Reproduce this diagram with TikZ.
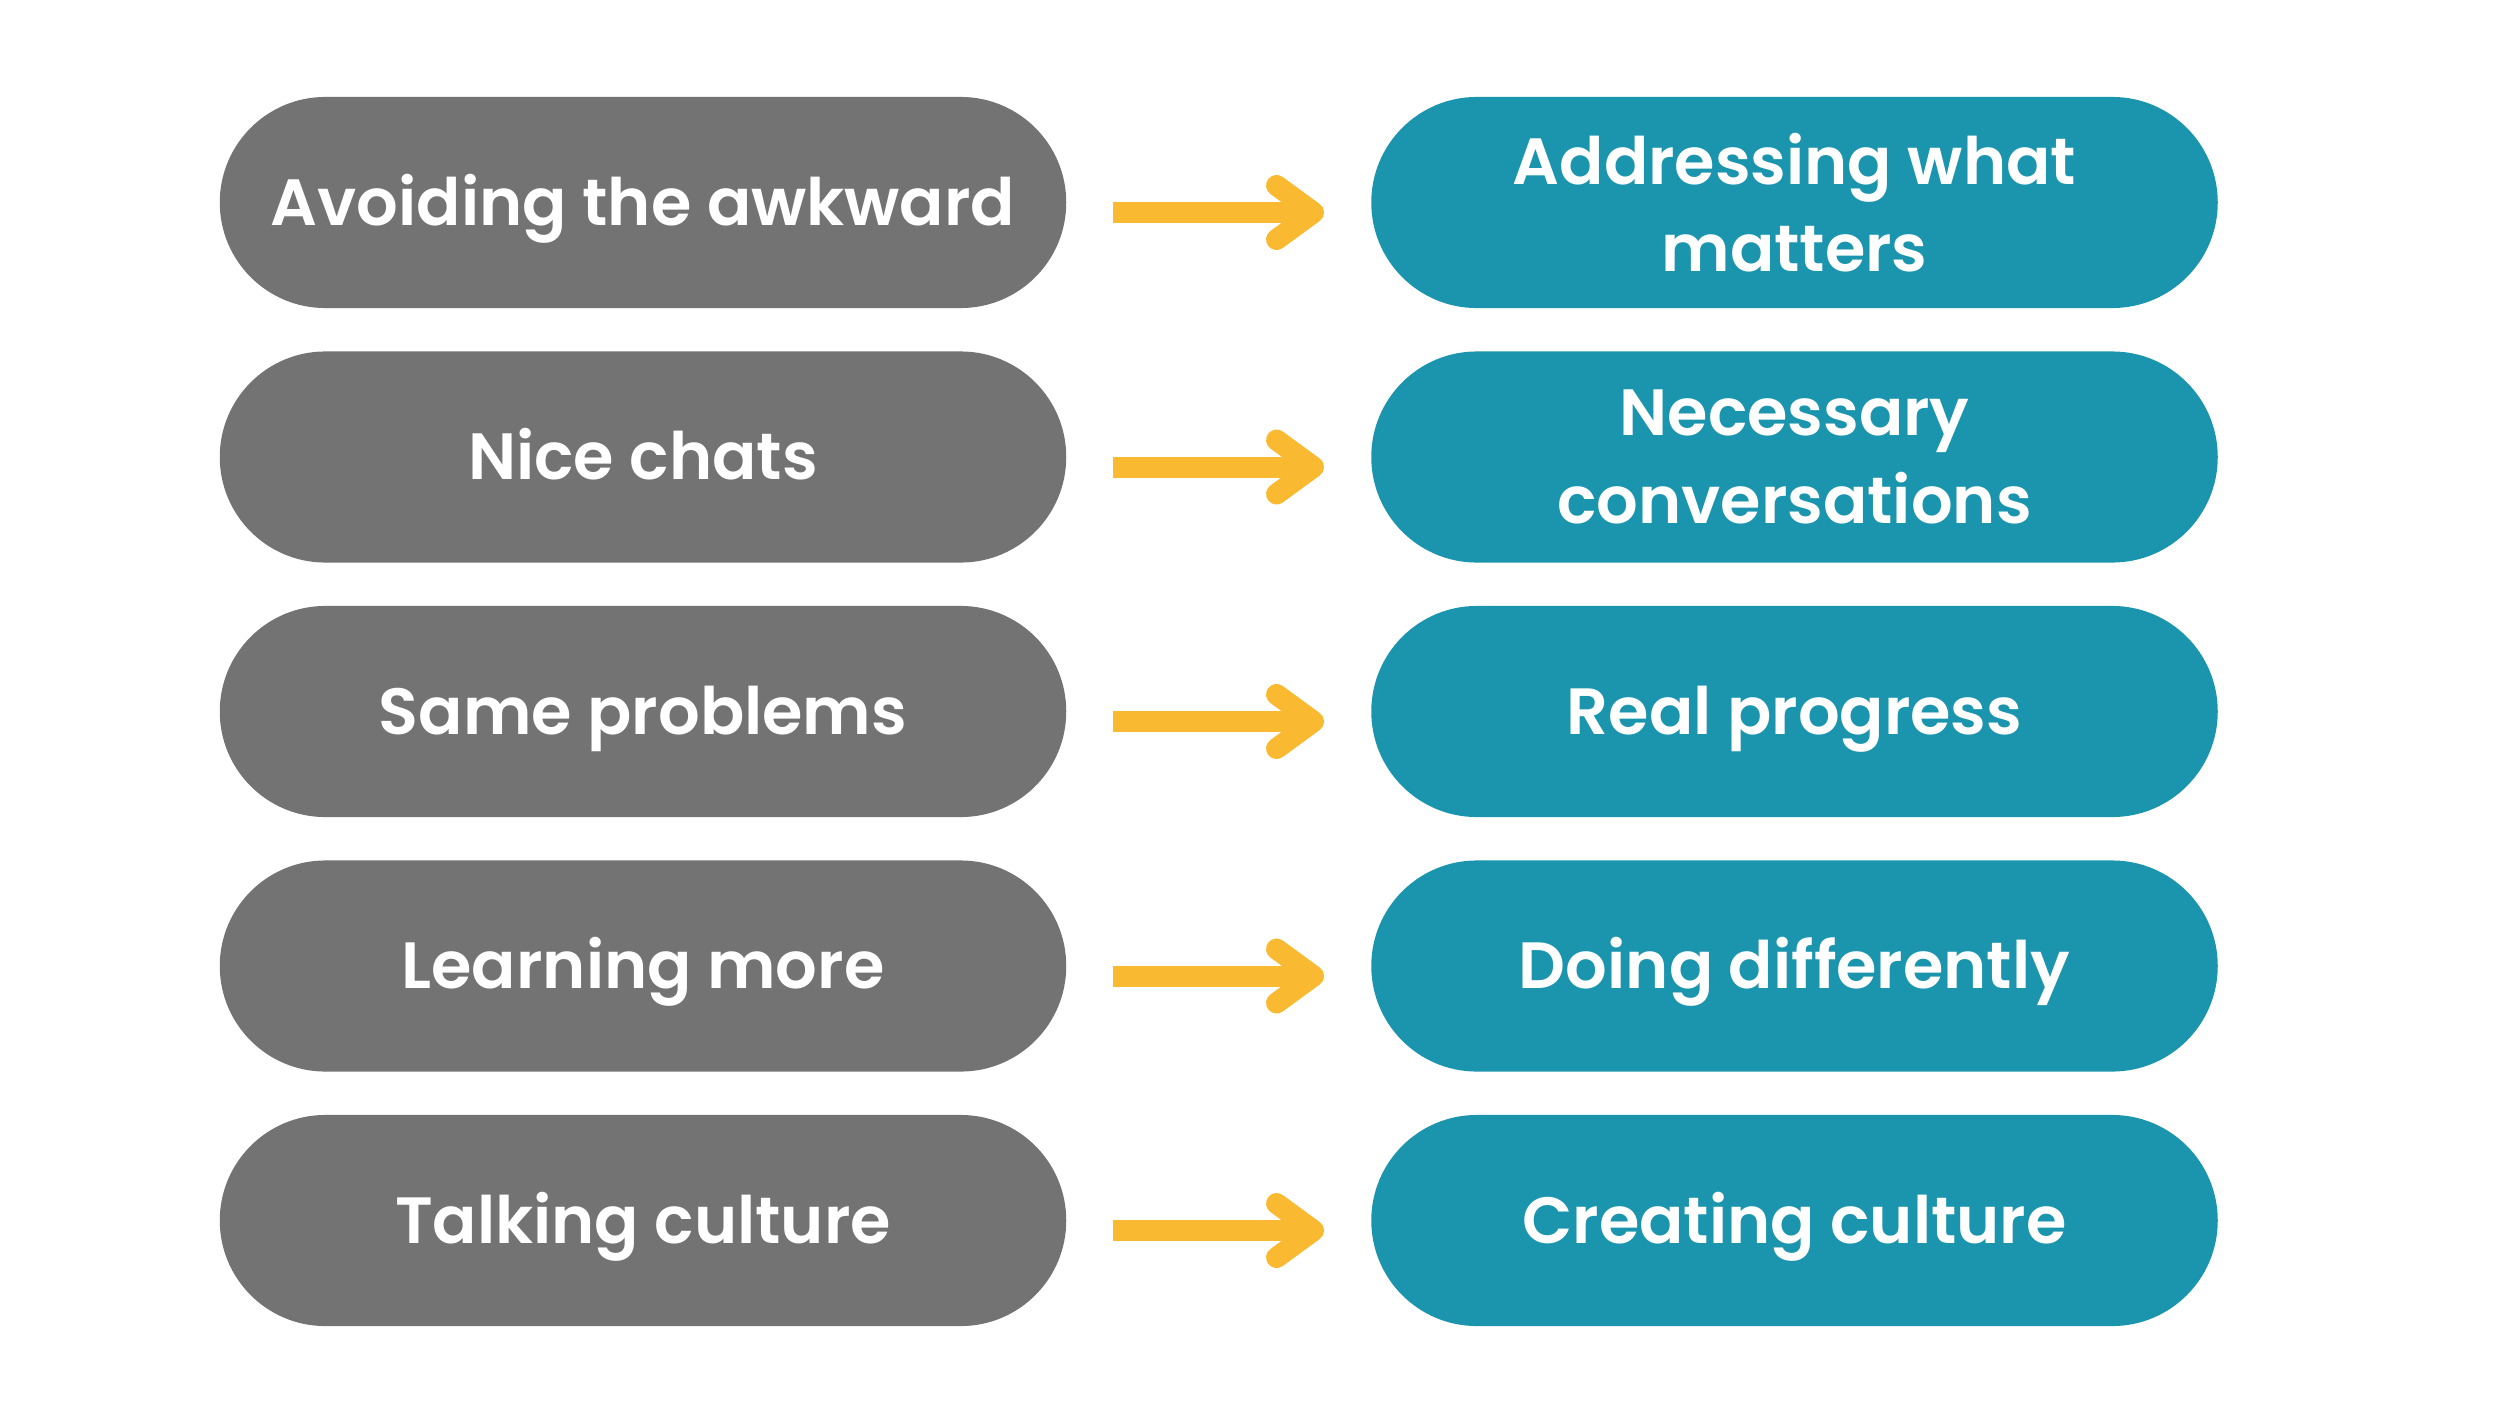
\documentclass[tikz,border=0pt]{standalone}
\usepackage{fontspec}
\setmainfont{Poppins}[BoldFont={Poppins SemiBold}]
\usetikzlibrary{calc}
\definecolor{pillgray}{HTML}{737373}
\definecolor{pillteal}{HTML}{1B95AE}
\definecolor{arrowyellow}{HTML}{F9BA32}
\begin{document}
\begin{tikzpicture}[x=0.01cm,y=-0.01cm,
  pill/.style={rectangle, rounded corners=1.055cm, minimum width=8.46cm, minimum height=2.11cm,
    inner sep=0pt, text=white, align=center,
    font=\fontsize{18.6pt}{24.8pt}\selectfont\bfseries},
  oneline/.style={text height=0.45cm, text depth=0cm},
  twoline/.style={},
  oldpill/.style={pill, oneline, fill=pillgray},
  newpill/.style={pill, fill=pillteal},
  arrowline/.style={draw=arrowyellow, line width=0.21cm},
  arrowhead/.style={draw=arrowyellow, line width=0.21cm, line cap=round, line join=round}]
\useasboundingbox (0,0) rectangle (2500,1406);
\foreach \i/\y/\l/\r/\ro in {1/202.5/{Avoiding the awkward}/{Addressing what\\matters}/twoline,
                         2/457/{Nice chats}/{Necessary\\conversations}/twoline,
                         3/711.5/{Same problems}/{Real progress}/oneline,
                         4/966/{Learning more}/{Doing differently}/oneline,
                         5/1220.5/{Talking culture}/{Creating culture}/oneline}{
  \node[oldpill] (l\i) at (643,\y) {\l};
  \node[newpill,\ro] (r\i) at (1794.5,\y) {\r};
  \coordinate (a\i) at ([shift={(46,10)}]l\i.east);
  \coordinate (b\i) at ([shift={(-46,10)}]r\i.west);
  \draw[arrowline] (a\i) -- ($(b\i)+(-11,0)$);
  \draw[arrowhead] ($(b\i)+(-48,-27)$) -- ($(b\i)+(-11,0)$) -- ($(b\i)+(-48,27)$);
}
\end{tikzpicture}
\end{document}
